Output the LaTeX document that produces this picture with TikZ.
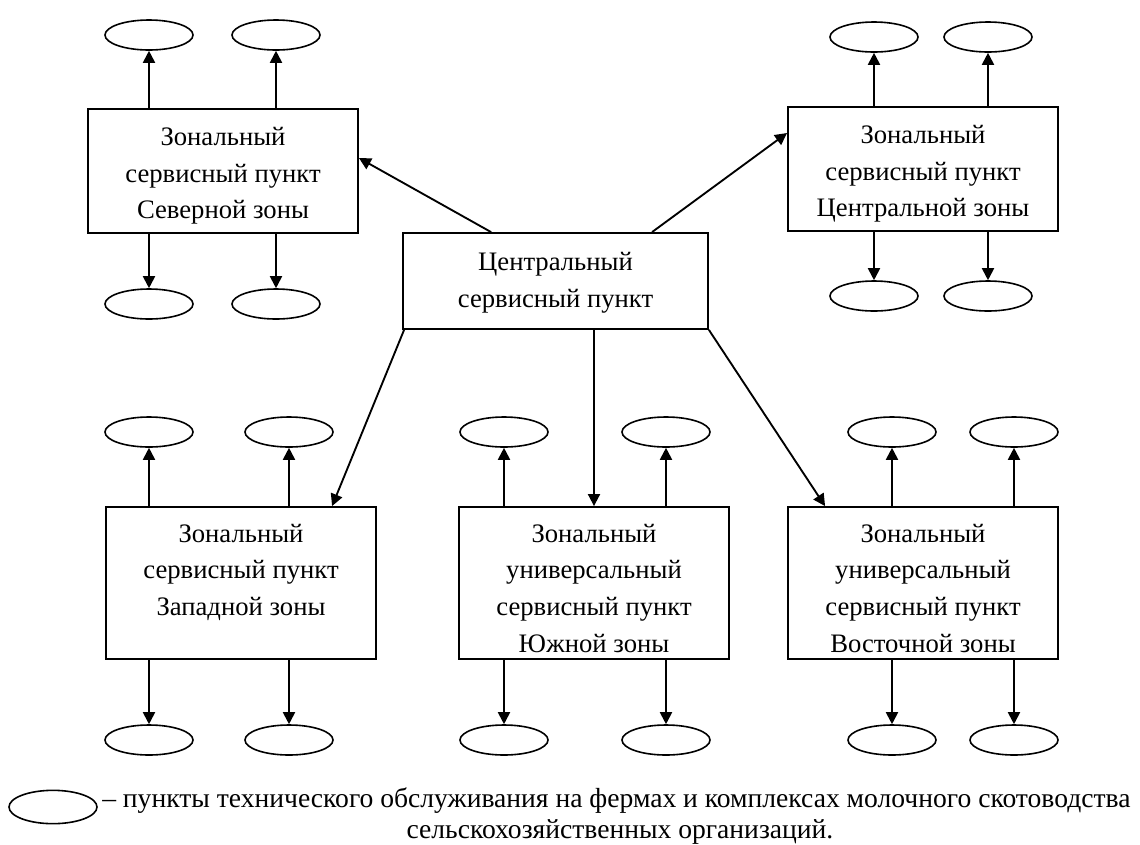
\documentclass[tikz,border=0pt]{standalone}
\usepackage{fontspec}
\setmainfont{Liberation Serif}
\usetikzlibrary{shapes.geometric,arrows.meta,calc}
\tikzset{
  frame/.style={draw, line width=1.4pt, inner sep=0pt},
  zbox/.style={frame, minimum width=202.5pt, minimum height=93pt},
  tallbox/.style={frame, minimum width=202.5pt, minimum height=114pt},
  txt/.style={align=center, inner sep=0pt, font=\fontsize{20}{27.5}\selectfont},
  ell/.style={draw, ellipse, line width=1.2pt, minimum width=66pt,
    minimum height=22.5pt, inner sep=0pt},
  arr/.style={line width=1.4pt, -{Triangle[length=9pt,width=9pt]}},
  legtext/.style={inner sep=0pt, font=\fontsize{20.7}{22.5}\selectfont}
}
\begin{document}
\begin{tikzpicture}[x=0.75pt,y=-0.75pt]
\useasboundingbox (0,0) rectangle (1140,844);

% central box
\node[frame, minimum width=228.75pt, minimum height=72pt] (central) at (555.5,281) {};
\node[txt] (centraltext) at ($(central)+(0,2)$) {Центральный\\сервисный пункт};

% zone boxes
\node[zbox] (north) at (223,171) {};
\node[txt] (northtext) at ($(north)+(0,5)$) {Зональный\\сервисный пункт\\Северной зоны};
\node[zbox] (cz) at (923,169) {};
\node[txt] (cztext) at ($(cz)+(0,5)$) {Зональный\\сервисный пункт\\Центральной зоны};
\node[tallbox] (west) at (241,583) {};
\node[txt] (westtext) at ($(west)+(0,5)$) {Зональный\\сервисный пункт\\Западной зоны\\\mbox{}};
\node[tallbox] (south) at (594,583) {};
\node[txt] (southtext) at ($(south)+(0,5)$) {Зональный\\универсальный\\сервисный пункт\\Южной зоны};
\node[tallbox] (east) at (923,583) {};
\node[txt] (easttext) at ($(east)+(0,5)$) {Зональный\\универсальный\\сервисный пункт\\Восточной зоны};

% ellipses - north
\node[ell] (n1) at (149,35) {};
\node[ell] (n2) at (276,35) {};
\node[ell] (n3) at (149,304) {};
\node[ell] (n4) at (276,304) {};
% ellipses - central zone
\node[ell] (c1) at (874,37) {};
\node[ell] (c2) at (988,37) {};
\node[ell] (c3) at (874,296) {};
\node[ell] (c4) at (988,296) {};
% ellipses - west
\node[ell] (w1) at (149,432) {};
\node[ell] (w2) at (289,432) {};
\node[ell] (w3) at (149,740) {};
\node[ell] (w4) at (289,740) {};
% ellipses - south
\node[ell] (s1) at (504,432) {};
\node[ell] (s2) at (666,432) {};
\node[ell] (s3) at (504,740) {};
\node[ell] (s4) at (666,740) {};
% ellipses - east
\node[ell] (e1) at (892,432) {};
\node[ell] (e2) at (1014,432) {};
\node[ell] (e3) at (892,740) {};
\node[ell] (e4) at (1014,740) {};

% arrows zone boxes -> ellipses
\foreach \b/\u/\v/\d/\f in {north/n1/n2/n3/n4, cz/c1/c2/c3/c4, west/w1/w2/w3/w4,
                            south/s1/s2/s3/s4, east/e1/e2/e3/e4}{
  \draw[arr] (\b.north -| \u) -- (\u);
  \draw[arr] (\b.north -| \v) -- (\v);
  \draw[arr] (\b.south -| \d) -- (\d);
  \draw[arr] (\b.south -| \f) -- (\f);
}

% arrows from central box
\draw[arr] ($(central.north west)+(89,0)$) -- ($(north.east)+(0,-13)$);
\draw[arr] ($(central.north west)+(250,0)$) -- ($(cz.west)+(0,-36)$);
\draw[arr] ($(central.south west)+(2,0)$) -- ($(west.north west)+(227,0)$);
\draw[arr] (central.south -| south.north) -- (south.north);
\draw[arr] (central.south east) -- ($(east.north west)+(38,0)$);

% legend
\node[ell, minimum height=25pt] (leg) at (53,807) {};
\node[legtext, anchor=base west] (legline1) at (102,807)
  {– пункты технического обслуживания на фермах и комплексах молочного скотоводства};
\node[legtext, anchor=base] (legline2) at (620,838)
  {сельскохозяйственных организаций.};
\end{tikzpicture}
\end{document}
